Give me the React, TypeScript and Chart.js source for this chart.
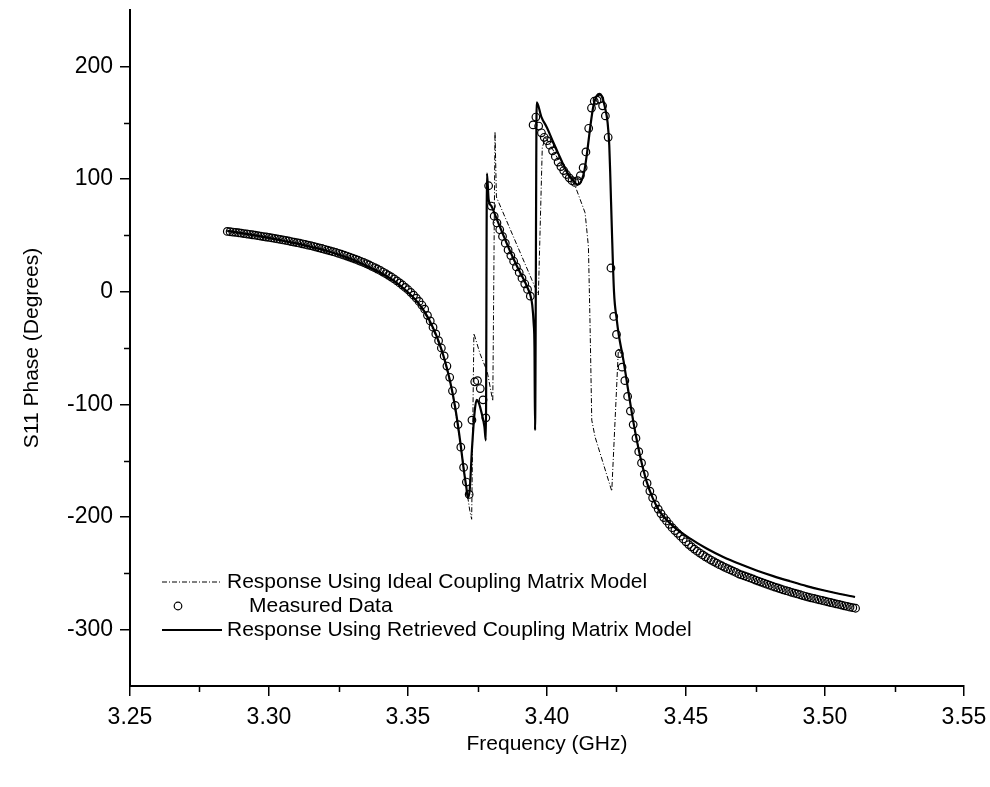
import React, { useEffect, useRef } from 'react';
import { Chart, registerables } from 'chart.js';

Chart.register(...registerables);

// ---------- data ----------
const measuredFreq = [
  3.285, 3.286, 3.287, 3.288, 3.289, 3.29, 3.291, 3.292, 3.293, 3.294,
  3.295, 3.296, 3.297, 3.298, 3.299, 3.3, 3.301, 3.302, 3.303, 3.304,
  3.305, 3.306, 3.307, 3.308, 3.309, 3.31, 3.311, 3.312, 3.313, 3.314,
  3.315, 3.316, 3.317, 3.318, 3.319, 3.32, 3.321, 3.322, 3.323, 3.324,
  3.325, 3.326, 3.327, 3.328, 3.329, 3.33, 3.331, 3.332, 3.333, 3.334,
  3.335, 3.336, 3.337, 3.338, 3.339, 3.34, 3.341, 3.342, 3.343, 3.344,
  3.345, 3.346, 3.347, 3.348, 3.349, 3.35, 3.351, 3.352, 3.353, 3.354,
  3.355, 3.356, 3.357, 3.358, 3.359, 3.36, 3.361, 3.362, 3.363, 3.364,
  3.365, 3.366, 3.367, 3.368, 3.369, 3.37, 3.371, 3.372, 3.373, 3.374,
  3.375, 3.376, 3.377, 3.378, 3.379, 3.38, 3.381, 3.382, 3.383, 3.384,
  3.385, 3.386, 3.387, 3.388, 3.389, 3.39, 3.391, 3.392, 3.393, 3.394,
  3.395, 3.396, 3.397, 3.398, 3.399, 3.4, 3.401, 3.402, 3.403, 3.404,
  3.405, 3.406, 3.407, 3.408, 3.409, 3.41, 3.411, 3.412, 3.413, 3.414,
  3.415, 3.416, 3.417, 3.418, 3.419, 3.42, 3.421, 3.422, 3.423, 3.424,
  3.425, 3.426, 3.427, 3.428, 3.429, 3.43, 3.431, 3.432, 3.433, 3.434,
  3.435, 3.436, 3.437, 3.438, 3.439, 3.44, 3.441, 3.442, 3.443, 3.444,
  3.445, 3.446, 3.447, 3.448, 3.449, 3.45, 3.451, 3.452, 3.453, 3.454,
  3.455, 3.456, 3.457, 3.458, 3.459, 3.46, 3.461, 3.462, 3.463, 3.464,
  3.465, 3.466, 3.467, 3.468, 3.469, 3.47, 3.471, 3.472, 3.473, 3.474,
  3.475, 3.476, 3.477, 3.478, 3.479, 3.48, 3.481, 3.482, 3.483, 3.484,
  3.485, 3.486, 3.487, 3.488, 3.489, 3.49, 3.491, 3.492, 3.493, 3.494,
  3.495, 3.496, 3.497, 3.498, 3.499, 3.5, 3.501, 3.502, 3.503, 3.504,
  3.505, 3.506, 3.507, 3.508, 3.509, 3.51, 3.511,
];
const measuredPhase = [
  53.5, 53.2, 52.9, 52.6, 52.3, 52.0, 51.6, 51.2, 50.9, 50.5,
  50.1, 49.7, 49.3, 48.9, 48.5, 48.1, 47.7, 47.3, 46.8, 46.4,
  45.9, 45.5, 45.0, 44.5, 44.0, 43.5, 43.0, 42.5, 41.9, 41.3,
  40.8, 40.2, 39.6, 38.9, 38.3, 37.6, 36.9, 36.2, 35.5, 34.8,
  34.0, 33.2, 32.4, 31.6, 30.7, 29.8, 28.9, 27.9, 26.9, 25.9,
  24.8, 23.7, 22.5, 21.3, 20.1, 18.8, 17.4, 16.0, 14.5, 13.0,
  11.3, 9.6, 7.8, 5.9, 3.8, 1.7, -0.6, -3.1, -5.8, -8.7,
  -11.9, -15.5, -21, -26, -31.5, -37.5, -43.5, -50, -57, -66,
  -76, -88, -101, -118, -138, -156, -169, -180, -114, -80,
  -79, -86, -96, -112, 94, 76, 67, 61, 55, 49,
  43, 37, 32, 27, 22, 17, 12, 7, 2, -4,
  148, 155, 147, 141, 137, 134, 130, 125, 120, 115,
  111, 107.5, 104, 101, 98.5, 97, 98.5, 103, 110, 124,
  145, 163, 169, 170, 171, 165, 156, 137, 21, -22,
  -38, -55, -67, -79, -93, -106, -118, -130, -142, -152,
  -162, -170, -177, -183, -189, -193, -197, -200.5, -203.5, -206.5,
  -209.5, -212, -214.5, -217, -219.5, -222, -224.5, -226.5, -228.5, -230.3,
  -232, -233.7, -235.3, -236.8, -238.2, -239.6, -241, -242.3, -243.5, -244.7,
  -245.9, -247, -248.1, -249.2, -250.6, -251.4, -252.3, -253.2, -254.1, -255,
  -256, -256.9, -257.8, -258.7, -259.6, -260.5, -261.4, -262.2, -263, -263.8,
  -264.6, -265.4, -266.1, -266.9, -267.6, -268.3, -269, -269.7, -270.4, -271.1,
  -271.7, -272.3, -272.9, -273.5, -274.1, -274.7, -275.3, -275.9, -276.5, -277.1,
  -277.6, -278.2, -278.8, -279.4, -280, -280.5, -281,
];

const retrievedFreq = [
  3.285, 3.29, 3.295, 3.3, 3.305, 3.31, 3.315, 3.32, 3.325, 3.33,
  3.335, 3.34, 3.345, 3.35, 3.353, 3.356, 3.359, 3.361, 3.363, 3.365,
  3.367, 3.369, 3.37, 3.371, 3.3715, 3.3722, 3.373, 3.374, 3.3747, 3.3755,
  3.3765, 3.3775, 3.378, 3.3784, 3.379, 3.38, 3.382, 3.384, 3.386, 3.388,
  3.39, 3.392, 3.393, 3.394, 3.3947, 3.3952, 3.3955, 3.3957, 3.3963, 3.398,
  3.4, 3.402, 3.404, 3.406, 3.408, 3.4095, 3.411, 3.4125, 3.4135, 3.4145,
  3.4155, 3.4167, 3.4178, 3.4188, 3.4198, 3.4208, 3.4218, 3.4224, 3.4228, 3.4233,
  3.4241, 3.4251, 3.4258, 3.4275, 3.4293, 3.4311, 3.4335, 3.4359, 3.438, 3.4405,
  3.4436, 3.4455, 3.4514, 3.4574, 3.4634, 3.4694, 3.4754, 3.4814, 3.4874, 3.4934,
  3.4994, 3.5054, 3.5108,
];
const retrievedPhase = [
  54, 52, 50, 47.8, 45.2, 42.8, 39.8, 36.8, 33, 28.5,
  23, 17, 9.5, -0.5, -8, -18, -32, -44, -59, -78,
  -103, -137, -157, -174, -183, -176, -140, -106, -96, -99,
  -108, -120, -132, 105, 82, 76, 64, 52, 40, 29,
  18.5, 9, 3.5, -3, -12, -28, -50, -123, 168, 155,
  145.5, 134, 123, 112, 103, 98.5, 95, 99, 108, 125,
  145, 165, 173.5, 175.5, 173, 164, 150, 130, 100, 58,
  0, -25, -38, -61, -89, -116, -146, -169, -183, -195,
  -204, -208.5, -219, -228, -235.5, -241.8, -247.5, -252.5, -257, -261.3,
  -265, -268.3, -271,
];

const idealFreq = [
  3.285, 3.295, 3.305, 3.315, 3.325, 3.335, 3.345, 3.35, 3.355, 3.36,
  3.363, 3.366, 3.369, 3.371, 3.3722, 3.3729, 3.3737, 3.3759, 3.3785, 3.3805,
  3.3813, 3.3818, 3.3969, 3.3983, 3.3995, 3.401,
  3.403, 3.405, 3.407, 3.409, 3.4101, 3.4119, 3.4137, 3.4149, 3.4155, 3.4161,
  3.4173, 3.4233, 3.4257, 3.4275, 3.4293, 3.4311, 3.4335, 3.4359, 3.438, 3.4405,
  3.4436, 3.4455, 3.4514, 3.4574, 3.4634, 3.4694, 3.4754, 3.4814, 3.4874, 3.4934,
  3.4994, 3.5054, 3.5108,
];
const idealPhase = [
  54, 50, 45.2, 39.8, 33, 23, 9.5, -0.5, -14, -39,
  -59, -90, -137, -174, -194, -202, -37, -55, -71, -97,
  142, 84, -3, 128, 137, 131,
  122, 113, 105, 98, 94, 82, 70, 40, -31, -114,
  -129, -177, -50, -61, -89, -116, -146, -169, -183, -195,
  -204, -208.5, -219, -228, -235.5, -241.8, -247.5, -252.5, -257, -261.3,
  -265, -268.3, -271,
];

const xMajorTicks = [3.25, 3.3, 3.35, 3.4, 3.45, 3.5, 3.55];
const xMinorTicks = [3.275, 3.325, 3.375, 3.425, 3.475, 3.525];
const yMajorTicks = [-300, -200, -100, 0, 100, 200];
const yMinorTicks = [-250, -150, -50, 50, 150];

const legendLabels = [
  'Response Using Ideal Coupling Matrix Model',
  'Measured Data',
  'Response Using Retrieved Coupling Matrix Model',
];

const FONT = "'Liberation Sans', Arial, Helvetica, sans-serif";
const DASH = [5, 2, 1, 2];

export default function App() {
  const ref = useRef<HTMLCanvasElement>(null);

  useEffect(() => {
    document.body.style.margin = '0';
    const pts = (xs: number[], ys: number[]) => xs.map((x, i) => ({ x, y: ys[i] }));

    const minorTicks = {
      id: 'minorTicks',
      afterDraw(chart: any) {
        const { ctx } = chart;
        const xs = chart.scales.x;
        const ys = chart.scales.y;
        ctx.save();
        ctx.strokeStyle = '#000';
        ctx.lineWidth = 1.5;
        ctx.beginPath();
        xMinorTicks.forEach((v) => {
          const px = Math.round(xs.getPixelForValue(v)) + 0.5;
          ctx.moveTo(px, xs.top);
          ctx.lineTo(px, xs.top + 6);
        });
        yMinorTicks.forEach((v) => {
          const py = Math.round(ys.getPixelForValue(v)) + 0.5;
          ctx.moveTo(ys.right, py);
          ctx.lineTo(ys.right - 6, py);
        });
        ctx.stroke();
        ctx.restore();
      },
    };

    const legendBox = {
      id: 'legendBox',
      afterDraw(chart: any) {
        const { ctx, chartArea } = chart;
        const x0 = chartArea.left + 32;
        const x1 = chartArea.left + 92;
        const tx = chartArea.left + 97;
        const rows = [chartArea.bottom - 104, chartArea.bottom - 80, chartArea.bottom - 56];
        ctx.save();
        ctx.font = `21px ${FONT}`;
        ctx.fillStyle = '#000';
        ctx.textBaseline = 'middle';
        ctx.strokeStyle = '#000';
        ctx.lineWidth = 1;
        ctx.setLineDash(DASH);
        ctx.beginPath();
        ctx.moveTo(x0, rows[0]);
        ctx.lineTo(x1, rows[0]);
        ctx.stroke();
        ctx.setLineDash([]);
        ctx.lineWidth = 1.2;
        ctx.beginPath();
        ctx.arc((x0 + x1) / 2 - 14, rows[1], 3.8, 0, Math.PI * 2);
        ctx.stroke();
        ctx.lineWidth = 2;
        ctx.beginPath();
        ctx.moveTo(x0, rows[2]);
        ctx.lineTo(x1, rows[2]);
        ctx.stroke();
        ctx.fillText(legendLabels[0], tx, rows[0]);
        ctx.fillText(legendLabels[1], tx + 22, rows[1]);
        ctx.fillText(legendLabels[2], tx, rows[2]);
        ctx.restore();
      },
    };

    const chart = new Chart(ref.current as HTMLCanvasElement, {
      type: 'scatter',
      data: {
        datasets: [
          {
            label: legendLabels[2],
            data: pts(retrievedFreq, retrievedPhase),
            showLine: true,
            borderColor: '#000',
            borderWidth: 2.2,
            pointRadius: 0,
            cubicInterpolationMode: 'monotone',
          },
          {
            label: legendLabels[1],
            data: pts(measuredFreq, measuredPhase),
            showLine: false,
            pointStyle: 'circle',
            pointRadius: 3.8,
            pointBorderWidth: 1.2,
            pointBorderColor: '#000',
            pointBackgroundColor: 'rgba(0,0,0,0)',
            borderColor: '#000',
            backgroundColor: 'rgba(0,0,0,0)',
          },
          {
            label: legendLabels[0],
            data: pts(idealFreq, idealPhase),
            showLine: true,
            borderColor: '#000',
            borderWidth: 1,
            borderDash: DASH,
            pointRadius: 0,
            tension: 0,
          },
        ],
      } as any,
      options: {
        animation: false,
        responsive: false,
        maintainAspectRatio: false,
        layout: { padding: { top: 10, right: 26, left: 0, bottom: 0 } },
        plugins: {
          legend: { display: false },
          tooltip: { enabled: false },
        },
        scales: {
          x: {
            type: 'linear',
            position: 'bottom',
            min: 3.25,
            max: 3.55,
            afterBuildTicks: (s: any) => {
              s.ticks = xMajorTicks.map((v) => ({ value: v }));
            },
            afterFit: (s: any) => {
              s.height = 101;
              s.paddingLeft = 0;
              s.paddingRight = 0;
            },
            ticks: {
              callback: (v: any) => Number(v).toFixed(2),
              font: { family: FONT, size: 23 },
              color: '#000',
              padding: 8,
              maxRotation: 0,
              autoSkip: false,
            },
            grid: {
              display: true,
              drawOnChartArea: false,
              drawTicks: true,
              tickLength: 10,
              color: '#000',
              lineWidth: 1.5,
            },
            border: { display: true, color: '#000', width: 2 },
            title: {
              display: true,
              text: 'Frequency (GHz)',
              font: { family: FONT, size: 21 },
              color: '#000',
              padding: { top: 0, bottom: 30 },
            },
          },
          y: {
            type: 'linear',
            min: -350,
            max: 250,
            afterBuildTicks: (s: any) => {
              s.ticks = yMajorTicks.map((v) => ({ value: v }));
            },
            afterFit: (s: any) => {
              s.width = 130;
              s.paddingTop = 0;
              s.paddingBottom = 0;
            },
            ticks: {
              callback: (v: any) => String(v),
              font: { family: FONT, size: 23 },
              color: '#000',
              padding: 7,
              autoSkip: false,
            },
            grid: {
              display: true,
              drawOnChartArea: false,
              drawTicks: true,
              tickLength: 10,
              color: '#000',
              lineWidth: 1.5,
            },
            border: { display: true, color: '#000', width: 2 },
            title: {
              display: true,
              text: 'S11 Phase (Degrees)',
              font: { family: FONT, size: 21 },
              color: '#000',
              padding: { top: 20, bottom: 0 },
            },
          },
        },
      } as any,
      plugins: [minorTicks, legendBox],
    });

    return () => {
      chart.destroy();
    };
  }, []);

  return (
    <div style={{ width: 990, height: 787, overflow: 'hidden', background: '#fff' }}>
      <canvas ref={ref} width={990} height={787} style={{ display: 'block', width: 990, height: 787 }} />
    </div>
  );
}
